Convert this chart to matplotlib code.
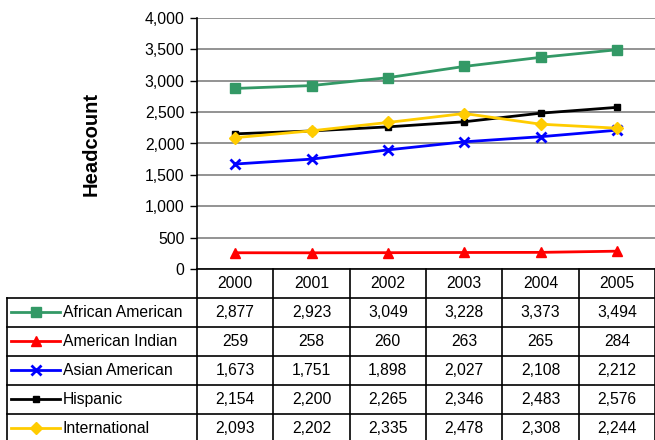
import matplotlib.pyplot as plt
from matplotlib.lines import Line2D

plt.rcParams['font.family'] = ['Liberation Sans', 'DejaVu Sans']

# Data
years = ['2000', '2001', '2002', '2003', '2004', '2005']
african_american = [2877, 2923, 3049, 3228, 3373, 3494]
american_indian = [259, 258, 260, 263, 265, 284]
asian_american = [1673, 1751, 1898, 2027, 2108, 2212]
hispanic = [2154, 2200, 2265, 2346, 2483, 2576]
international = [2093, 2202, 2335, 2478, 2308, 2244]

series = [
    ('African American', african_american, '#339966', 's', 7.5),
    ('American Indian', american_indian, '#FF0000', '^', 7.5),
    ('Asian American', asian_american, '#0000FF', 'x', 7),
    ('Hispanic', hispanic, '#000000', 's', 4.5),
    ('International', international, '#FFCC00', 'D', 6.5),
]

FS = 11.3
W, H = 655, 440
fig = plt.figure(figsize=(W / 100, H / 100), dpi=100)

# pixel layout
left, right, top, bottom = 197, 655, 18, 269
ax = fig.add_axes([left / W, 1 - bottom / H, (right - left) / W, (bottom - top) / H])

x = list(range(len(years)))
for name, vals, col, mk, ms in series:
    ax.plot(x, vals, color=col, lw=2, marker=mk, markersize=ms,
            markeredgewidth=2 if mk == 'x' else 1, markeredgecolor=col, markerfacecolor=col,
            clip_on=False, zorder=3)

ax.set_xlim(-0.5, len(years) - 0.5)
ax.set_ylim(0, 4000)
ax.set_yticks(range(0, 4001, 500))
ax.set_yticklabels([f'{v:,}' for v in range(0, 4001, 500)], fontsize=FS)
ax.set_xticks([])
ax.grid(axis='y', color='#808080', lw=1.2, zorder=0)
for s in ['top', 'right', 'bottom']:
    ax.spines[s].set_visible(False)
ax.spines['left'].set_linewidth(1.2)
ax.tick_params(axis='y', length=5, width=1, pad=4)
ax.set_ylabel('Headcount', fontsize=14.5, fontweight='bold', labelpad=32)

# Data table drawn underneath
tab = fig.add_axes([0, 0, 1, 1])
tab.set_xlim(0, W)
tab.set_ylim(H, 0)
tab.axis('off')
tab.patch.set_alpha(0)

colw = (right - left) / len(years)
rowh = 29
lw = 1.2
# header row
tab.plot([left, right], [bottom, bottom], color='black', lw=lw)
for i, yr in enumerate(years):
    tab.text(left + colw * (i + 0.5), bottom + rowh / 2, yr, ha='center', va='center', fontsize=FS)
# vertical lines
for i in range(len(years) + 1):
    tab.plot([left + colw * i] * 2, [bottom, H], color='black', lw=lw)
tab.plot([7, 7], [bottom + rowh, H], color='black', lw=lw)
for r, (name, vals, col, mk, ms) in enumerate(series):
    y0 = bottom + rowh * (r + 1)
    tab.plot([7, right], [y0, y0], color='black', lw=lw)
    yc = y0 + rowh / 2
    tab.add_line(Line2D([11, 60], [yc, yc], color=col, lw=2, zorder=3))
    tab.plot([35.5], [yc], marker=mk, markersize=ms, color=col,
             markeredgewidth=2 if mk == 'x' else 1)
    tab.text(63, yc, name, ha='left', va='center', fontsize=FS)
    for i, v in enumerate(vals):
        tab.text(left + colw * (i + 0.5), yc, f'{v:,}', ha='center', va='center', fontsize=FS)

fig.savefig('out.png', dpi=100)
